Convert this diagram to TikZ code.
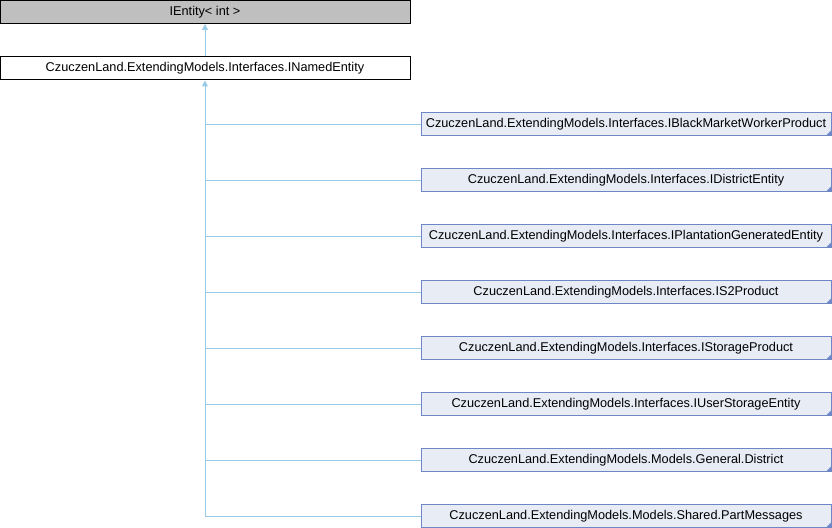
\documentclass[tikz,border=0pt]{standalone}
\usepackage{fontspec}
\setmainfont{Liberation Sans}
\usepackage{xcolor}
\usetikzlibrary{positioning,calc,arrows.meta}
\definecolor{edgeblue}{HTML}{9ACBE6}
\definecolor{boxfill}{HTML}{E8ECF5}
\definecolor{boxline}{HTML}{6F86C6}
\definecolor{basegray}{HTML}{BFBFBF}
\tikzset{
  cls/.style={draw=black,line width=0.75pt,minimum width=307.5pt,minimum height=17.25pt,inner sep=0pt,font=\fontsize{9.55}{11}\selectfont},
  derived/.style={cls,draw=boxline,fill=boxfill,path picture={
      \fill[boxline] ([xshift=-3.75pt]path picture bounding box.south east) -- (path picture bounding box.south east) -- ([yshift=3.75pt]path picture bounding box.south east) -- cycle;}},
  inh/.style={draw=edgeblue,line width=0.75pt},
  tip/.style={-{Stealth[length=4.5pt,width=4.5pt,inset=0pt]}}
}
\begin{document}
\begin{tikzpicture}[x=0.75pt,y=-0.75pt]
        \useasboundingbox (0,0) rectangle (832,528);
        % Base
        \node[cls,fill=basegray] (ientity) at (205,12) {IEntity< int >};
        \node[cls,fill=white] (inamed) at (205,68.5) {CzuczenLand.ExtendingModels.Interfaces.INamedEntity};
        \draw[inh,tip] (inamed) -- (ientity);
        % Derived
        \node[derived] (blackmarket) at (626,124) {CzuczenLand.ExtendingModels.Interfaces.IBlackMarketWorkerProduct};
        \node[derived] (district) at (626,180) {CzuczenLand.ExtendingModels.Interfaces.IDistrictEntity};
        \node[derived] (plantation) at (626,236) {CzuczenLand.ExtendingModels.Interfaces.IPlantationGeneratedEntity};
        \node[derived] (stwoproduct) at (626,292) {CzuczenLand.ExtendingModels.Interfaces.IS2Product};
        \node[derived] (storageprod) at (626,348) {CzuczenLand.ExtendingModels.Interfaces.IStorageProduct};
        \node[derived] (userstorage) at (626,404) {CzuczenLand.ExtendingModels.Interfaces.IUserStorageEntity};
        \node[derived] (generaldist) at (626,460) {CzuczenLand.ExtendingModels.Models.General.District};
        \node[derived] (partmsg) at (626,516) {CzuczenLand.ExtendingModels.Models.Shared.PartMessages};
        % Trunk
        \draw[inh,tip] (partmsg.west) -| (inamed.south);
        \draw[inh] (blackmarket.west) -- (inamed.south |- blackmarket.west);
        \draw[inh] (district.west) -- (inamed.south |- district.west);
        \draw[inh] (plantation.west) -- (inamed.south |- plantation.west);
        \draw[inh] (stwoproduct.west) -- (inamed.south |- stwoproduct.west);
        \draw[inh] (storageprod.west) -- (inamed.south |- storageprod.west);
        \draw[inh] (userstorage.west) -- (inamed.south |- userstorage.west);
        \draw[inh] (generaldist.west) -- (inamed.south |- generaldist.west);
    \end{tikzpicture}
\end{document}
